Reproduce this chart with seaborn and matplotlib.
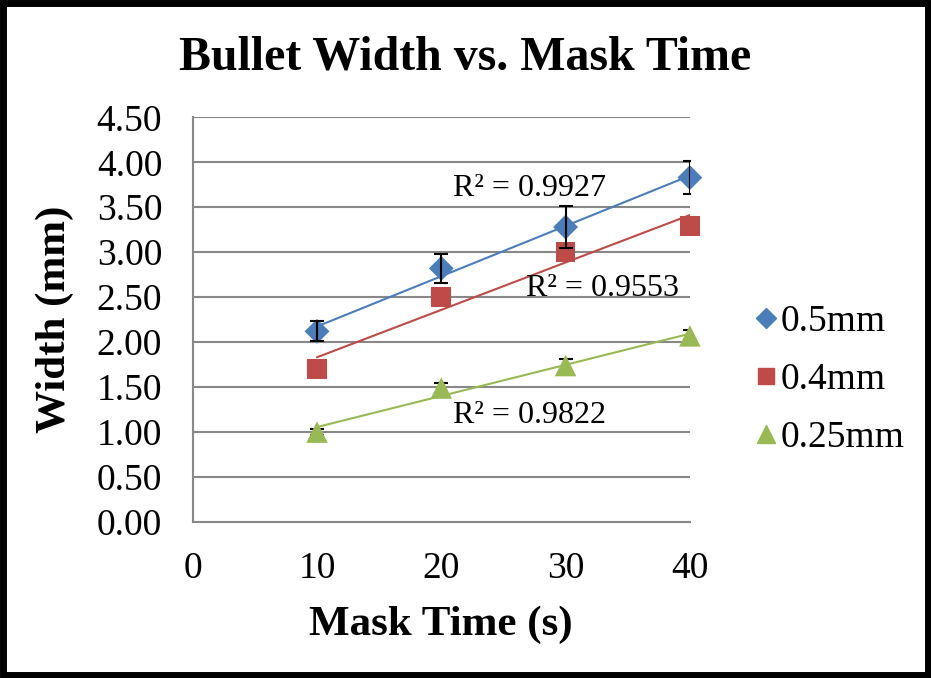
import matplotlib
matplotlib.use("Agg")
import matplotlib.pyplot as plt
import matplotlib.patches as mpatches
import seaborn as sns
import pandas as pd
import numpy as np

# data
mask_time = [10, 20, 30, 40]
series_names = ["0.5mm", "0.4mm", "0.25mm"]
width_05 = [2.12, 2.82, 3.28, 3.83]
width_04 = [1.70, 2.50, 3.00, 3.29]
width_025 = [1.00, 1.49, 1.74, 2.07]
err_05 = [0.11, 0.16, 0.23, 0.18]
err_04 = [0.04, 0.04, 0.04, 0.04]
err_025 = [0.03, 0.06, 0.07, 0.06]
r2_labels = ["R² = 0.9927", "R² = 0.9553", "R² = 0.9822"]

colors = ["#4a7ebb", "#be4b48", "#98b954"]
markers = ["D", "s", "^"]
msizes = [160, 200, 240]

df = pd.DataFrame({
    "time": mask_time * 3,
    "width": width_05 + width_04 + width_025,
    "err": err_05 + err_04 + err_025,
    "series": [s for s in series_names for _ in mask_time],
})

sns.set_style("white")
plt.rcParams["font.family"] = ["Liberation Serif", "DejaVu Serif"]
plt.rcParams["text.color"] = "black"
plt.rcParams["axes.labelcolor"] = "black"
plt.rcParams["xtick.color"] = "black"
plt.rcParams["ytick.color"] = "black"

fig = plt.figure(figsize=(9.31, 6.78), dpi=100)
ax = fig.add_axes([0.207, 0.230, 0.534, 0.597])

for i, (name, col, mk, ms) in enumerate(zip(series_names, colors, markers, msizes)):
    d = df[df.series == name]
    sns.regplot(data=d, x="time", y="width", ax=ax, ci=None, scatter=False,
                line_kws={"color": col, "lw": 1.5, "zorder": 2}, truncate=True)
    # blue error bars sit on top of the markers, the others behind
    ez = 5 if i == 0 else 3
    ax.errorbar(d.time, d.width, yerr=d.err, fmt="none", ecolor="black",
                elinewidth=1.5, capsize=5, capthick=1.5, zorder=ez)
    sns.scatterplot(data=d, x="time", y="width", ax=ax, color=col, marker=mk,
                    s=ms, edgecolor="none", zorder=4, legend=False, clip_on=False)

# R² annotations
ax.text(27.1, 3.71, r2_labels[0], fontsize=23, ha="center", va="center")
ax.text(33.0, 2.60, r2_labels[1], fontsize=23, ha="center", va="center")
ax.text(27.1, 1.19, r2_labels[2], fontsize=23, ha="center", va="center")

ax.set_xlim(0, 40)
ax.set_ylim(0, 4.5)
ax.set_xticks([0, 10, 20, 30, 40])
yt = np.arange(0, 4.51, 0.5)
ax.set_yticks(yt)
ax.set_yticklabels([f"{v:.2f}" for v in yt])
ax.tick_params(labelsize=27, length=0)
ax.tick_params(axis="y", pad=22)
ax.tick_params(axis="x", pad=21)
ax.yaxis.grid(True, color="#888888", lw=1.5)
ax.set_axisbelow(True)
for s in ["top", "right"]:
    ax.spines[s].set_visible(False)
for s in ["left", "bottom"]:
    ax.spines[s].set_color("#888888")
    ax.spines[s].set_linewidth(1.5)

ax.set_xlabel("Mask Time (s)", fontsize=31, fontweight="bold", labelpad=14)
ax.set_ylabel("Width (mm)", fontsize=31, fontweight="bold", labelpad=16)
fig.text(0.5, 0.915, "Bullet Width vs. Mask Time", fontsize=34.5,
         fontweight="bold", ha="center", va="center")

handles = [plt.Line2D([], [], ls="none", marker=mk, color=c, markersize=sz)
           for mk, c, sz in zip(markers, colors, [10, 12, 13])]
fig.legend(handles, series_names, loc="center left",
           bbox_to_anchor=(0.77, 0.44), frameon=False, fontsize=27,
           handletextpad=0.0, handlelength=0.8, labelspacing=0.62)

# black frame around the whole picture
fig.patches.append(mpatches.Rectangle((0.003, 0.004), 0.994, 0.992,
                                      transform=fig.transFigure, fill=False,
                                      ec="black", lw=5))

fig.savefig("out.png", dpi=100)
